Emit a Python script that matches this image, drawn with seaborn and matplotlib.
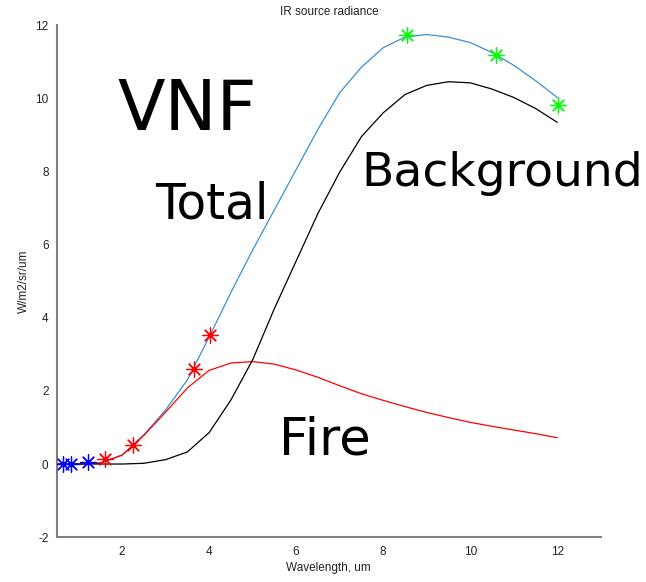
import matplotlib
matplotlib.use("Agg")
import matplotlib.pyplot as plt
import numpy as np
import pandas as pd
import seaborn as sns

# wavelength grid (um) and radiances (W/m2/sr/um)
wavelength = [0.5, 1.0, 1.5, 2.0, 2.5, 3.0, 3.5, 4.0, 4.5, 5.0, 5.5, 6.0,
              6.5, 7.0, 7.5, 8.0, 8.5, 9.0, 9.5, 10.0, 10.5, 11.0, 11.5, 12.0]
total = [0.0, 0.0, 0.03, 0.25, 0.8, 1.48, 2.3, 3.47, 4.69, 5.85, 6.95, 8.05,
         9.15, 10.15, 10.85, 11.38, 11.67, 11.74, 11.67, 11.52, 11.25, 10.9, 10.48, 10.02]
fire = [0.0, 0.0, 0.03, 0.24, 0.78, 1.42, 2.08, 2.56, 2.76, 2.8, 2.73, 2.57,
        2.37, 2.14, 1.92, 1.74, 1.57, 1.41, 1.27, 1.14, 1.03, 0.93, 0.83, 0.72]
background = [0.0, 0.0, 0.0, 0.0, 0.02, 0.12, 0.33, 0.86, 1.75, 2.85, 4.25, 5.55,
              6.85, 7.98, 8.95, 9.6, 10.1, 10.35, 10.45, 10.42, 10.25, 10.02, 9.72, 9.34]

# band markers
vis_x = [0.65, 0.83, 1.22]
vis_y = [0.0, 0.0, 0.06]
mwir_x = [1.6, 2.24, 3.65, 4.02]
mwir_y = [0.15, 0.53, 2.61, 3.54]
lwir_x = [8.55, 10.6, 12.02]
lwir_y = [11.73, 11.18, 9.81]

sns.set_style("white")
plt.rcParams["font.family"] = ["Liberation Sans", "DejaVu Sans"]
plt.rcParams["axes.unicode_minus"] = False

df = pd.DataFrame({"wl": wavelength, "total": total, "fire": fire, "bg": background})

fig = plt.figure(figsize=(6.46, 5.82), dpi=100)
ax = fig.add_axes([0.088, 0.077, 0.842, 0.880])

sns.lineplot(data=df, x="wl", y="total", ax=ax, color="#3a8fd4", linewidth=0.9)
sns.lineplot(data=df, x="wl", y="fire", ax=ax, color="#ff0000", linewidth=0.9)
sns.lineplot(data=df, x="wl", y="bg", ax=ax, color="black", linewidth=0.9)

star = (8, 2, 0)
for xs, ys, c in [(vis_x, vis_y, "#0000ff"), (mwir_x, mwir_y, "#ff0000"), (lwir_x, lwir_y, "#00ff00")]:
    sns.scatterplot(x=xs, y=ys, ax=ax, marker=star, s=120, color=c, edgecolor=c, linewidth=0.9, zorder=5)

ax.set_xlim(0.5, 13)
ax.set_ylim(-2, 12)
ax.set_xticks([2, 4, 6, 8, 10, 12])
ax.set_yticks([-2, 0, 2, 4, 6, 8, 10, 12])
sns.despine(ax=ax)
for side in ["left", "bottom"]:
    ax.spines[side].set_color("#7f7f7f")
    ax.spines[side].set_linewidth(1.5)
ax.tick_params(direction="in", length=4, width=1, color="#555555", labelsize=8.5, labelcolor="#222222", pad=6)

ax.set_xlabel("Wavelength, um", fontsize=8.5, color="#222222", labelpad=3)
ax.set_ylabel("W/m2/sr/um", fontsize=8.5, color="#222222", labelpad=4)
ax.set_title("IR source radiance", fontsize=8.5, color="#222222", pad=7)

# big annotation words
big = dict(family="DejaVu Sans", color="black")
ax.text(1.9, 9.65, "VNF", fontsize=50, va="center", ha="left", **big)
ax.text(2.76, 7.1, "Total", fontsize=35, va="center", ha="left", **big)
ax.text(7.5, 7.93, "Background", fontsize=34, va="center", ha="left", **big)
ax.text(5.6, 0.65, "Fire", fontsize=37, va="center", ha="left", **big)

fig.savefig("out.png", dpi=100, facecolor="white")
